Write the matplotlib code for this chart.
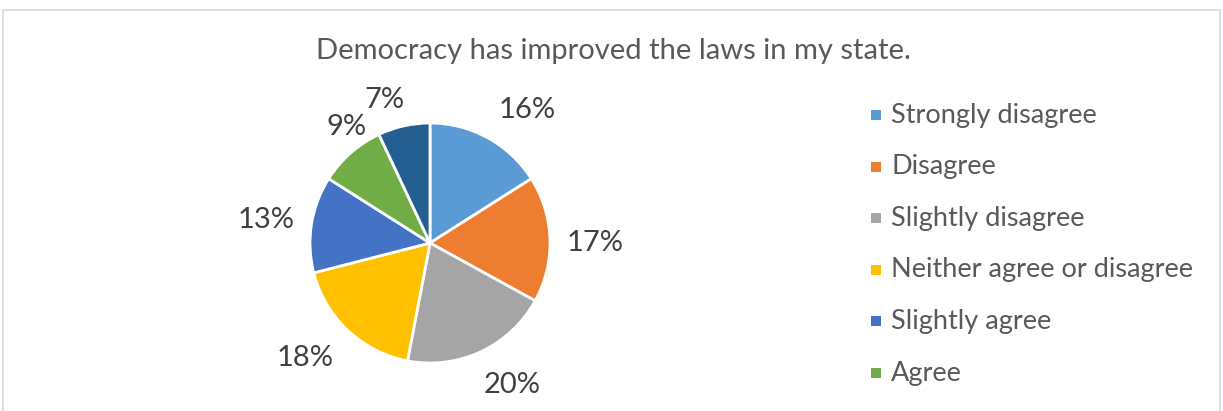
import matplotlib
matplotlib.use("Agg")
import numpy as np
import matplotlib.pyplot as plt
from matplotlib.patches import Rectangle

title = "Democracy has improved the laws in my state."
categories = ["Strongly disagree", "Disagree", "Slightly disagree",
              "Neither agree or disagree", "Slightly agree", "Agree",
              "Strongly agree"]
shares = [16, 17, 20, 18, 13, 9, 7]
colors = ["#5B9BD5", "#ED7D31", "#A5A5A5", "#FFC000", "#4472C4",
          "#70AD47", "#255E91"]

W, H = 1223, 411
CX, CY, R = 430, H - 243, 120
# best-fit label placement: (angular nudge in degrees, distance from centre in px)
label_layout = [(-7.2, 165), (-1.8, 165), (4.8, 164), (-4.2, 170),
                (1.0, 165), (-5.8, 143), (4.9, 150)]

plt.rcParams["font.family"] = ["Lato", "DejaVu Sans"]

fig = plt.figure(figsize=(W / 100, H / 100), dpi=100)
fig.patch.set_facecolor("white")

# chart-area frame (bottom edge runs past the canvas)
fig.patches.append(Rectangle((3 / W, -0.05), 1217 / W, 1.05 - 10 / H,
                             transform=fig.transFigure, fill=False,
                             edgecolor="#D9D9D9", linewidth=1.2))

ax = fig.add_axes([0, 0, 1, 1])
wedges, _ = ax.pie(
    shares, colors=colors, startangle=90, counterclock=False,
    center=(CX, CY), radius=R,
    wedgeprops=dict(edgecolor="white", linewidth=2),
)
for w, v, (nudge, dist) in zip(wedges, shares, label_layout):
    mid = np.deg2rad((w.theta1 + w.theta2) / 2 + nudge)
    ax.text(CX + dist * np.cos(mid), CY + dist * np.sin(mid), f"{v}%",
            ha="center", va="center", fontsize=21, color="#404040")
ax.set_xlim(0, W)
ax.set_ylim(0, H)
ax.set_aspect("equal")
ax.axis("off")

fig.text(613 / W, 1 - 51 / H, title, ha="center", va="center",
         fontsize=21, color="#595959")

# legend entries, one row per category that fits on the canvas
row0, step = 115, 51.6
for i, (lab, col) in enumerate(zip(categories, colors)):
    yc = row0 + i * step
    if yc + 14 > H:
        break
    fig.patches.append(Rectangle((871 / W, 1 - (yc + 5) / H), 10 / W, 10 / H,
                                 transform=fig.transFigure,
                                 facecolor=col, edgecolor="none"))
    fig.text(891 / W, 1 - yc / H, lab, ha="left", va="center",
             fontsize=19.5, color="#595959")

fig.savefig("out.png", dpi=100)
